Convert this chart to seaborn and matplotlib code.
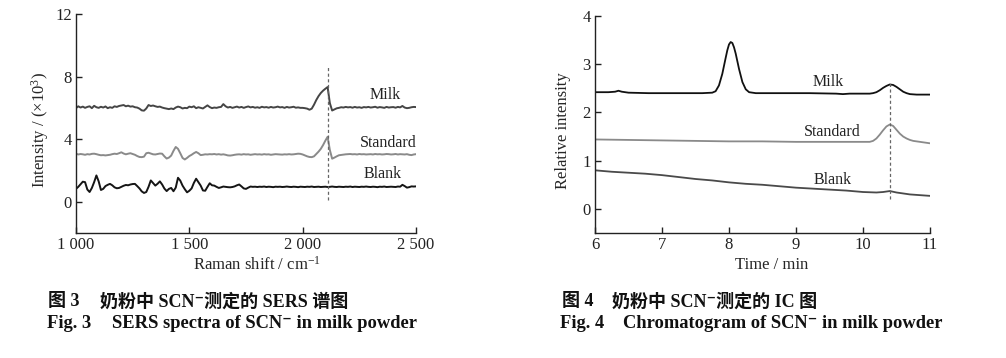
import numpy as np
import pandas as pd
import matplotlib
matplotlib.use("Agg")
import matplotlib.pyplot as plt
import seaborn as sns

# ---------------- data: Fig. 3 (SERS) ----------------
raman_shift = np.arange(1000, 2501, 10)

sers_milk = [
    5.98, 6.10, 6.02, 6.08, 6.00, 6.06, 6.10, 5.98, 6.13, 6.04,
    6.00, 6.07, 6.02, 6.09, 5.98, 6.04, 6.00, 6.10, 6.06, 6.12,
    6.15, 6.18, 6.10, 6.14, 6.08, 6.10, 6.04, 6.02, 5.95, 5.84,
    5.82, 5.96, 6.18, 6.12, 6.15, 6.10, 6.06, 6.08, 6.02, 5.98,
    5.95, 5.92, 5.96, 5.92, 6.02, 6.08, 6.04, 5.96, 6.00, 5.98,
    6.08, 6.04, 6.10, 5.98, 6.04, 6.00, 5.96, 6.06, 6.16, 6.05,
    5.98, 6.02, 6.00, 6.04, 6.06, 6.24, 6.10, 6.02, 6.06, 6.00,
    6.04, 6.08, 6.02, 6.06, 6.00, 6.05, 6.09, 6.03, 6.06, 6.01,
    6.04, 6.00, 6.07, 6.03, 6.05, 6.01, 6.06, 6.02, 6.04, 6.08,
    6.03, 6.05, 6.00, 6.06, 6.02, 6.04, 6.07, 6.01, 6.03, 6.00,
    6.00, 5.98, 5.95, 5.88, 5.95, 6.20, 6.50, 6.75, 6.95, 7.10,
    7.22, 7.33, 6.30, 5.83, 5.90, 5.97, 6.00, 6.04, 6.02, 6.06,
    6.03, 6.05, 6.01, 6.06, 6.02, 6.04, 6.00, 6.05, 6.03, 6.06,
    6.02, 6.04, 6.07, 6.01, 6.05, 6.03, 6.00, 6.06, 6.02, 6.04,
    6.05, 6.01, 6.06, 6.03, 6.12, 6.02, 5.98, 6.00, 6.04, 6.06,
    6.05,
]

sers_standard = [
    3.07, 3.02, 3.05, 3.03, 3.00, 3.04, 3.02, 3.06, 3.07, 3.04,
    3.00, 2.97, 2.98, 2.96, 2.98, 3.00, 3.04, 3.07, 3.05, 3.10,
    3.16, 3.08, 3.03, 3.07, 3.10, 3.05, 3.00, 2.92, 2.86, 2.85,
    2.88, 3.10, 3.13, 3.08, 3.03, 3.02, 3.05, 3.08, 3.07, 2.90,
    2.76, 2.82, 2.95, 3.25, 3.50, 3.38, 3.10, 2.80, 2.70, 2.80,
    2.92, 3.00, 3.10, 3.18, 3.10, 2.98, 3.00, 3.03, 3.02, 3.04,
    3.03, 3.05, 3.02, 3.04, 3.01, 3.03, 3.00, 2.96, 2.95, 2.97,
    3.00, 3.02, 3.03, 3.01, 3.04, 3.02, 3.03, 3.00, 3.02, 3.04,
    3.02, 3.03, 3.01, 3.04, 3.02, 3.03, 3.00, 3.02, 3.04, 3.03,
    3.02, 3.01, 3.03, 3.02, 3.04, 3.02, 3.03, 3.05, 3.07, 3.06,
    3.02, 2.96, 2.90, 2.86, 2.85, 2.90, 3.05, 3.20, 3.38, 3.62,
    3.90, 4.15, 3.30, 2.75, 2.82, 2.90, 2.97, 2.99, 3.01, 3.03,
    3.04, 3.05, 3.03, 3.04, 3.02, 3.05, 3.03, 3.04, 3.02, 3.03,
    3.04, 3.02, 3.05, 3.03, 3.04, 3.02, 3.03, 3.05, 3.04, 3.02,
    3.03, 3.05, 3.02, 3.04, 3.03, 3.02, 3.04, 3.00, 2.98, 3.02,
    3.04,
]

sers_blank = [
    0.82, 0.95, 1.12, 1.28, 1.25, 0.78, 0.62, 0.88, 1.25, 1.68,
    1.30, 0.75, 0.82, 1.00, 1.08, 1.14, 1.05, 0.92, 0.86, 0.88,
    0.95, 1.02, 1.07, 1.05, 1.10, 1.13, 1.14, 1.00, 0.85, 0.66,
    0.56, 0.62, 0.95, 1.36, 1.20, 1.03, 1.15, 1.30, 1.10, 0.84,
    0.68, 0.82, 0.88, 0.67, 0.90, 1.53, 1.35, 1.03, 0.80, 0.60,
    0.70, 0.85, 1.20, 1.47, 1.25, 1.03, 0.72, 0.70, 0.95, 1.18,
    1.05, 1.03, 0.95, 0.88, 0.92, 0.97, 0.95, 0.93, 0.92, 0.94,
    0.98, 1.05, 1.10, 0.98, 0.85, 0.82, 0.90, 0.97, 0.95, 0.96,
    0.94, 0.96, 0.95, 0.97, 0.94, 0.96, 0.95, 0.93, 0.96, 0.95,
    0.96, 0.94, 0.95, 0.97, 0.95, 0.94, 0.96, 0.95, 0.93, 0.96,
    0.95, 0.94, 0.96, 0.95, 0.97, 0.94, 0.95, 0.96, 0.94, 0.95,
    0.96, 0.94, 0.95, 0.97, 0.95, 0.94, 0.96, 0.95, 0.94, 0.96,
    0.95, 0.97, 0.94, 0.96, 0.95, 0.94, 0.96, 0.95, 0.97, 0.95,
    0.94, 0.96, 0.95, 0.93, 0.96, 0.95, 0.97, 0.94, 0.95, 0.96,
    0.95, 0.94, 0.97, 0.96, 1.08, 1.00, 0.90, 0.93, 0.98, 0.97,
    0.98,
]

sers_peak_shift = 2112
sers_xticks = [1000, 1500, 2000, 2500]
sers_xticklabels = ["1 000", "1 500", "2 000", "2 500"]
sers_yticks = [0, 4, 8, 12]

# ---------------- data: Fig. 4 (IC) ----------------
ic_milk_time = [6.0, 6.2, 6.3, 6.35, 6.4, 6.5, 6.8, 7.2, 7.6, 7.75, 7.8, 7.85,
                7.9, 7.95, 7.975, 8.0, 8.025, 8.05, 8.075, 8.1, 8.15, 8.2, 8.25,
                8.3, 8.4, 8.8, 9.2, 9.6, 9.7, 9.8, 10.0, 10.1, 10.15, 10.2,
                10.25, 10.3, 10.35, 10.4, 10.45, 10.5, 10.55, 10.6, 10.65,
                10.7, 10.8, 10.9, 11.0]
ic_milk = [2.42, 2.42, 2.43, 2.45, 2.43, 2.41, 2.40, 2.40, 2.40, 2.41, 2.44, 2.56,
           2.80, 3.13, 3.29, 3.41, 3.46, 3.44, 3.35, 3.22, 2.90, 2.63, 2.48,
           2.42, 2.40, 2.40, 2.40, 2.39, 2.38, 2.39, 2.39, 2.39, 2.40, 2.42,
           2.46, 2.51, 2.55, 2.58, 2.57, 2.53, 2.48, 2.43, 2.40,
           2.38, 2.37, 2.37, 2.37]

ic_std_time = [6.0, 6.5, 7.0, 7.5, 8.0, 8.5, 9.0, 9.5, 10.0, 10.1, 10.15, 10.2,
               10.25, 10.3, 10.35, 10.4, 10.45, 10.5, 10.55, 10.6, 10.65, 10.7,
               10.75, 10.8, 10.9, 11.0]
ic_standard = [1.44, 1.43, 1.42, 1.41, 1.40, 1.40, 1.39, 1.39, 1.39, 1.39, 1.41, 1.46,
               1.54, 1.63, 1.71, 1.75, 1.72, 1.64, 1.56, 1.50, 1.46, 1.43,
               1.41, 1.40, 1.38, 1.36]

ic_blank_time = [6.0, 6.25, 6.5, 6.75, 7.0, 7.25, 7.5, 7.75, 8.0, 8.25, 8.5, 8.75,
                 9.0, 9.25, 9.5, 9.75, 10.0, 10.2, 10.3, 10.4, 10.5, 10.6, 10.7,
                 10.8, 10.9, 11.0]
ic_blank = [0.80, 0.77, 0.75, 0.73, 0.70, 0.66, 0.62, 0.59, 0.55, 0.52, 0.50, 0.47,
            0.44, 0.42, 0.40, 0.38, 0.35, 0.34, 0.35, 0.37, 0.34, 0.32, 0.30,
            0.29, 0.28, 0.27]

ic_peak_time = 10.4
ic_xticks = [6, 7, 8, 9, 10, 11]
ic_yticks = [0, 1, 2, 3, 4]

# ---------------- style ----------------
sns.set_theme(style="ticks")
SERIF = ["Liberation Serif", "DejaVu Serif"]
plt.rcParams["font.family"] = SERIF
plt.rcParams["mathtext.fontset"] = "custom"
plt.rcParams["mathtext.rm"] = "Liberation Serif"
plt.rcParams["mathtext.it"] = "Liberation Serif:italic"
plt.rcParams["axes.linewidth"] = 1.0

C_MILK_L, C_STD, C_BLANK_L = "#454545", "#8a8a8a", "#151515"
C_MILK_R, C_BLANK_R = "#111111", "#4a4a4a"

fig = plt.figure(figsize=(10.06, 3.58), dpi=100)
ax1 = fig.add_axes([76 / 1006, 1 - 233 / 358, 340 / 1006, 219 / 358])
ax2 = fig.add_axes([595 / 1006, 1 - 233 / 358, 335 / 1006, 217 / 358])

df_sers = pd.DataFrame({
    "shift": np.concatenate([raman_shift] * 3),
    "intensity": np.concatenate([sers_milk, sers_standard, sers_blank]),
    "sample": ["Milk"] * len(raman_shift) + ["Standard"] * len(raman_shift) + ["Blank"] * len(raman_shift),
})
sns.lineplot(data=df_sers, x="shift", y="intensity", hue="sample",
             palette={"Milk": C_MILK_L, "Standard": C_STD, "Blank": C_BLANK_L},
             linewidth=1.4, legend=False, ax=ax1, estimator=None, sort=False)
ax1.vlines(sers_peak_shift, 0.13, 8.65, colors="#666666", linestyles=(0, (2.5, 2)), linewidth=0.9)

df_ic = pd.DataFrame({
    "time": list(ic_milk_time) + list(ic_std_time) + list(ic_blank_time),
    "intensity": list(ic_milk) + list(ic_standard) + list(ic_blank),
    "sample": ["Milk"] * len(ic_milk_time) + ["Standard"] * len(ic_std_time) + ["Blank"] * len(ic_blank_time),
})
sns.lineplot(data=df_ic, x="time", y="intensity", hue="sample",
             palette={"Milk": C_MILK_R, "Standard": C_STD, "Blank": C_BLANK_R},
             linewidth=1.3, legend=False, ax=ax2, estimator=None, sort=False)
ax2.vlines(ic_peak_time, 0.2, 2.64, colors="#666666", linestyles=(0, (2.5, 2)), linewidth=0.9)

# axes formatting
ax1.set_xlim(1000, 2500)
ax1.set_ylim(-2, 12)
ax1.set_xticks(sers_xticks)
ax1.set_xticklabels(sers_xticklabels)
ax1.set_yticks(sers_yticks)
ax1.set_xlabel("Raman shift / cm$^{-1}$", fontsize=12)
ax1.set_ylabel("Intensity / (×10$^{3}$)", fontsize=12)
ax1.xaxis.set_label_coords((257 - 76) / 340, (233 - 256) / 219)
ax1.yaxis.set_label_coords((51 - 76) / 340, (233 - 130) / 219)

ax2.set_xlim(6, 11)
ax2.set_ylim(-0.5, 4)
ax2.set_xticks(ic_xticks)
ax2.set_yticks(ic_yticks)
ax2.set_xlabel("Time / min", fontsize=12)
ax2.set_ylabel("Relative intensity", fontsize=12)
ax2.xaxis.set_label_coords((772 - 595) / 335, (233 - 257) / 217)
ax2.yaxis.set_label_coords((571 - 595) / 335, (233 - 131) / 217)

for ax in (ax1, ax2):
    sns.despine(ax=ax)
    ax.tick_params(direction="in", length=4, width=1.0, labelsize=12, pad=3, colors="#222222")
    for sp in ("left", "bottom"):
        ax.spines[sp].set_color("#222222")
    ax.set_facecolor("white")

ann = dict(fontsize=11.5, ha="center", va="center", color="#222222")
ax1.text(2363, 6.84, "Milk", **ann)
ax1.text(2376, 3.74, "Standard", **ann)
ax1.text(2355, 1.74, "Blank", **ann)
ax2.text(9.48, 2.64, "Milk", **ann)
ax2.text(9.54, 1.59, "Standard", **ann)
ax2.text(9.55, 0.60, "Blank", **ann)

# captions
CAP = ["Liberation Serif", "Noto Sans CJK SC", "DejaVu Sans"]
cap1 = dict(fontsize=13, fontweight="bold", family=CAP, ha="left", va="center", color="#111111")
cap2 = dict(fontsize=13.3, fontweight="bold", family=CAP, ha="left", va="center", color="#111111")
y1, y2 = 1 - 302 / 358, 1 - 324 / 358
fig.text(48 / 1006, y1, "图 3", **cap1)
fig.text(100 / 1006, y1, "奶粉中 SCN⁻测定的 SERS 谱图", **cap1)
fig.text(47 / 1006, y2, "Fig. 3", **cap2)
fig.text(112 / 1006, y2, "SERS spectra of SCN⁻ in milk powder", **cap2)
fig.text(562 / 1006, y1, "图 4", **cap1)
fig.text(612 / 1006, y1, "奶粉中 SCN⁻测定的 IC 图", **cap1)
fig.text(560 / 1006, y2, "Fig. 4", **cap2)
fig.text(623 / 1006, y2, "Chromatogram of SCN⁻ in milk powder", **cap2)

fig.savefig("out.png", dpi=100, facecolor="white")
